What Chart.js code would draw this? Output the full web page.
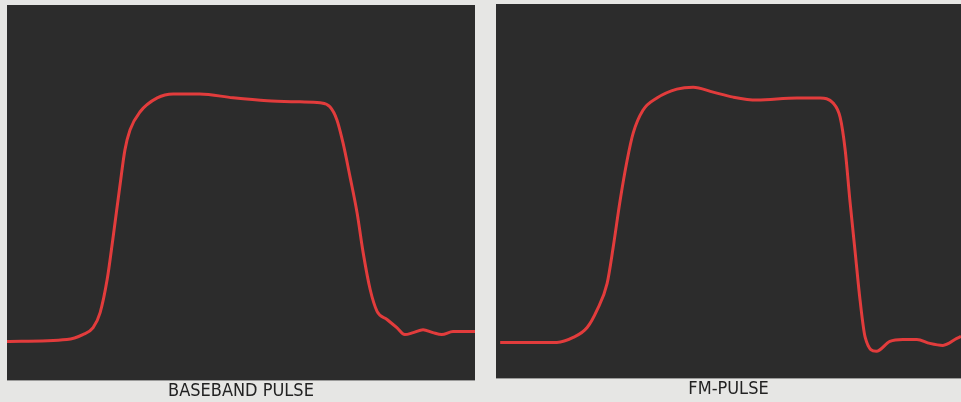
<!DOCTYPE html>
<html>
<head>
<meta charset="utf-8">
<script src="https://cdn.jsdelivr.net/npm/chart.js@4.4.0/dist/chart.umd.min.js"></script>
<style>
  html, body { margin: 0; padding: 0; background: #e6e6e4; }
  body { width: 961px; height: 402px; position: relative; overflow: hidden; }
  .panel { position: absolute; }
</style>
</head>
<body>
<div class="panel" style="left:7px; top:5px; width:468px; height:397px;"><canvas id="basebandChart"></canvas></div>
<div class="panel" style="left:496px; top:4px; width:465px; height:396px;"><canvas id="fmChart"></canvas></div>
<script>
// Подписи панелей
const panelTitles = ['BASEBAND PULSE', 'FM-PULSE'];

// Импульс в основной полосе (время, % от развёртки / амплитуда)
const basebandTime = [0, 12.8, 16.2, 18.4, 19.9, 21.4, 22.6, 24.1, 25.2, 26.3, 28.4, 32.1, 35.5, 41.2, 48.3, 55.6, 62.6, 66.9, 69.0, 70.5, 71.8, 73.3, 74.8, 76.1, 77.6, 79.1, 81.2, 83.3, 85.0, 86.8, 88.9, 91.0, 92.9, 95.3, 100];
const basebandAmp = [0, 0.008, 0.028, 0.056, 0.117, 0.25, 0.411, 0.625, 0.774, 0.855, 0.927, 0.984, 1.0, 1.0, 0.984, 0.972, 0.968, 0.964, 0.948, 0.895, 0.802, 0.665, 0.52, 0.359, 0.21, 0.121, 0.089, 0.056, 0.028, 0.036, 0.048, 0.036, 0.028, 0.04, 0.04];

// ЧМ-импульс
const fmTime = [0.9, 13.1, 16.6, 19.6, 21.7, 23.9, 25.2, 26.7, 28.2, 29.5, 31.6, 34.6, 38.9, 42.4, 46.7, 51.0, 56.1, 64.7, 69.7, 72.5, 74.0, 75.1, 76.1, 77.2, 78.3, 79.4, 81.8, 84.7, 87.5, 90.5, 93.3, 96.1, 99.1, 100];
const fmAmp = [0, 0, 0.02, 0.06, 0.129, 0.238, 0.383, 0.573, 0.734, 0.843, 0.935, 0.984, 1.02, 1.028, 1.008, 0.988, 0.976, 0.984, 0.984, 0.964, 0.907, 0.774, 0.573, 0.371, 0.169, 0.02, -0.036, 0.004, 0.012, 0.012, -0.004, -0.012, 0.016, 0.024];

// Тёмный фон экрана осциллографа
const screenBg = {
    id: 'screenBg',
    beforeDraw(chart) {
        const { ctx, chartArea: a } = chart;
        ctx.save();
        ctx.fillStyle = '#2c2c2c';
        ctx.fillRect(a.left, a.top, a.width, a.height);
        ctx.restore();
    }
};

function createScope(canvasId, xs, ys, title, yMin, yMax) {
    const ctx = document.getElementById(canvasId).getContext('2d');
    return new Chart(ctx, {
        type: 'line',
        data: {
            datasets: [{
                data: xs.map((x, i) => ({ x: x, y: ys[i] })),
                borderColor: '#e23c3c',
                borderWidth: 3,
                pointRadius: 0,
                cubicInterpolationMode: 'monotone',
                fill: false,
            }]
        },
        options: {
            responsive: true,
            maintainAspectRatio: false,
            animation: false,
            layout: { padding: 0 },
            plugins: {
                legend: { display: false },
                tooltip: { enabled: false },
                title: {
                    display: true,
                    position: 'bottom',
                    text: title,
                    color: '#222',
                    padding: { top: 0, bottom: 0 },
                    font: { family: "'DejaVu Sans Condensed', 'Liberation Sans Narrow', 'DejaVu Sans', sans-serif", size: 18, weight: 'normal', lineHeight: 1.2 }
                }
            },
            scales: {
                x: { type: 'linear', min: 0, max: 100, display: false },
                y: { min: yMin, max: yMax, display: false }
            }
        },
        plugins: [screenBg]
    });
}

createScope('basebandChart', basebandTime, basebandAmp, panelTitles[0], -0.157, 1.359);
createScope('fmChart', fmTime, fmAmp, panelTitles[1], -0.145, 1.363);
</script>
</body>
</html>
